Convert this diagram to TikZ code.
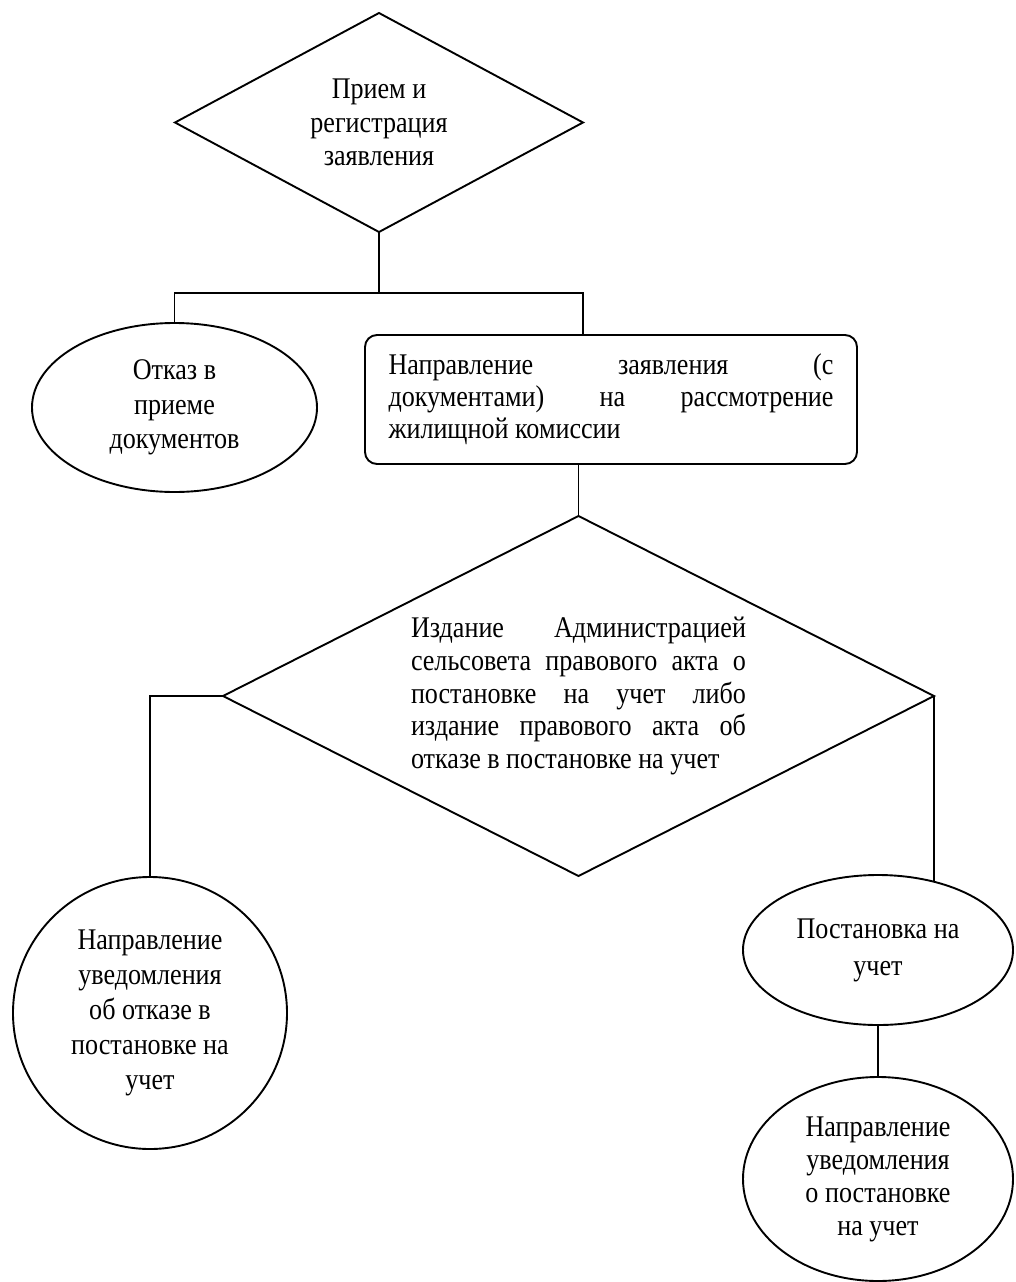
\documentclass[tikz,border=0pt]{standalone}
\usepackage{fontspec}
\setmainfont[FakeStretch=0.87]{Liberation Serif}
\usetikzlibrary{shapes.geometric,calc}
\tikzset{
  shp/.style={draw=black, line width=1.9pt, inner sep=0pt, outer sep=0pt, align=center, text=black},
  dia/.style={shp, diamond},
  ell/.style={shp, ellipse},
  rbox/.style={shp, rectangle, rounded corners=12pt, align=left},
  conn/.style={draw=black, line width=1.9pt},
}
\newcommand{\fnt}[1]{\fontsize{30}{#1}\selectfont}
\newcommand{\jl}[2]{\makebox[#1][s]{#2}}
\begin{document}
\begin{tikzpicture}[x=1pt,y=-1pt]
\useasboundingbox[fill=white] (0,0) rectangle (1015,1282);

\node[dia, minimum width=408pt, minimum height=219pt, shape aspect=1.85, font=\fnt{33.5}] (d1) at (379,122.5) {Прием и\\регистрация\\заявления};

\node[ell, minimum width=285pt, minimum height=169pt, font=\fnt{34.5}] (e1) at (174.5,407.5) {Отказ в\\приеме\\документов};

\node[rbox, minimum width=492pt, minimum height=129pt, font=\fnt{32}] (r) at (611,399.5)
  {\jl{445pt}{Направление заявления (с}\\\jl{445pt}{документами) на рассмотрение}\\жилищной комиссии};

\node[dia, align=left, minimum width=711pt, minimum height=360pt, shape aspect=1.98, font=\fnt{32.7}] (d2) at (578.5,696)
  {\jl{335pt}{Издание Администрацией}\\\jl{335pt}{сельсовета правового акта о}\\\jl{335pt}{постановке на учет либо}\\\jl{335pt}{издание правового акта об}\\отказе в постановке на учет};

\node[ell, minimum width=274pt, minimum height=272pt, font=\fnt{35}] (e3) at (150,1013) {Направление\\уведомления\\об отказе в\\постановке на\\учет};

\node[ell, minimum width=270pt, minimum height=150pt, font=\fnt{37}] (e4) at (878,950) {Постановка на\\учет};

\node[ell, minimum width=270pt, minimum height=204pt, font=\fnt{33}] (e5) at (878,1179) {Направление\\уведомления\\о постановке\\на учет};

\coordinate (bar) at (379,293);
\draw[conn] (d1.south) -- (bar);
\draw[conn] (e1.north) |- (bar) -| ($(r.north west)+(218,0)$);
\draw[conn] (d2.north) -- (d2.north |- r.south);
\draw[conn] (d2.west) -| (e3.north);
\draw[conn] (d2.east) -- (d2.east |- e4.50);
\draw[conn] (e4.south) -- (e5.north);
\end{tikzpicture}
\end{document}
